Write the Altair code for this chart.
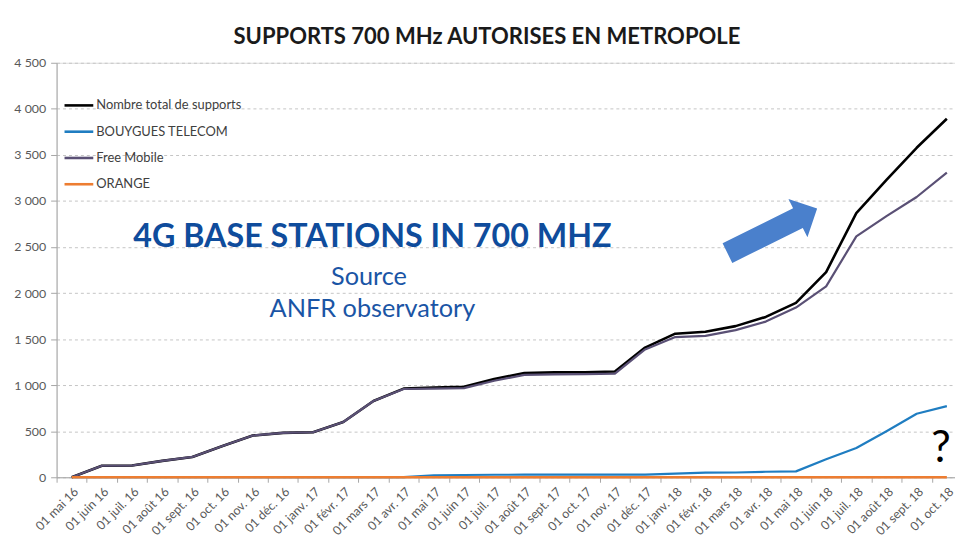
import altair as alt
import pandas as pd

months = ["01 mai 16", "01 juin 16", "01 juil. 16", "01 août 16", "01 sept. 16",
          "01 oct. 16", "01 nov. 16", "01 déc. 16", "01 janv. 17", "01 févr. 17",
          "01 mars 17", "01 avr. 17", "01 mai 17", "01 juin 17", "01 juil. 17",
          "01 août 17", "01 sept. 17", "01 oct. 17", "01 nov. 17", "01 déc. 17",
          "01 janv. 18", "01 févr. 18", "01 mars 18", "01 avr. 18", "01 mai 18",
          "01 juin 18", "01 juil. 18", "01 août 18", "01 sept. 18", "01 oct. 18"]

total = [0, 125, 128, 178, 221, 340, 453, 482, 489, 600,
         828, 962, 975, 982, 1068, 1132, 1139, 1140, 1148, 1408,
         1559, 1580, 1641, 1741, 1893, 2228, 2868, 3229, 3577, 3892]
bouygues = [0, 0, 0, 0, 0, 0, 0, 0, 0, 0,
            0, 2, 20, 25, 27, 28, 28, 28, 28, 28,
            40, 50, 52, 60, 64, 195, 318, 500, 690, 772]
free = [0, 125, 128, 178, 221, 340, 453, 482, 489, 600,
        828, 958, 962, 968, 1048, 1112, 1118, 1120, 1125, 1388,
        1522, 1535, 1597, 1690, 1842, 2072, 2615, 2835, 3043, 3308]
orange = [0, 0, 0, 0, 0, 0, 0, 0, 0, 0,
          0, 0, 0, 0, 0, 0, 0, 0, 0, 0,
          0, 0, 0, 0, 0, 0, 0, 0, 0, 0]

series_names = ["Nombre total de supports", "BOUYGUES TELECOM", "Free Mobile", "ORANGE"]
series_colors = ["#000000", "#1F7DC1", "#5A5075", "#ED7D31"]
series_widths = [2.6, 2.2, 2.2, 2.4]
y_ticks = [0, 500, 1000, 1500, 2000, 2500, 3000, 3500, 4000, 4500]

title_text = "SUPPORTS 700 MHz AUTORISES EN METROPOLE"
note_main = "4G BASE STATIONS IN 700 MHZ"
note_src1 = "Source"
note_src2 = "ANFR observatory"
note_q = "?"

FONT = "Lato"

rows = []
for name, vals in zip(series_names, [total, bouygues, free, orange]):
    for m, v in zip(months, vals):
        rows.append({"month": m, "series": name, "value": v})
df = pd.DataFrame(rows)

color_scale = alt.Scale(domain=series_names, range=series_colors)

x_enc = alt.X(
    "month:N", sort=months, title=None, bandPosition=0.5,
    scale=alt.Scale(type="band", range=[0, 913], paddingInner=0, paddingOuter=0),
    axis=alt.Axis(labelAngle=-45, tickBand="extent", tickSize=5, tickColor="#A6A6A6",
                  domainColor="#A6A6A6", labelColor="#595959", labelFontSize=12.5,
                  labelFont=FONT, labelPadding=3, grid=False, labelOverlap=False),
)
y_enc = alt.Y(
    "value:Q", title=None,
    scale=alt.Scale(domain=[0, 4500], nice=False, zero=True),
    axis=alt.Axis(values=y_ticks, labelExpr="replace(format(datum.value, ','), ',', ' ')",
                  grid=True, gridDash=[3, 3], gridColor="#C4C4C4", gridWidth=1,
                  domainColor="#A6A6A6", tickColor="#A6A6A6", tickSize=6,
                  labelColor="#595959", labelFontSize=12.5, labelFont=FONT, labelPadding=5),
)

layers = []
for name, w in zip(series_names, series_widths):
    layers.append(
        alt.Chart(df).transform_filter(alt.datum.series == name)
        .mark_line(strokeWidth=w, strokeJoin="round")
        .encode(x=x_enc, y=y_enc,
                color=alt.Color("series:N", scale=color_scale, legend=None))
    )

# manual legend (inside plot, top-left)
for k, name in enumerate(series_names):
    yk = 43 + 26.5 * k
    ldf = pd.DataFrame({"series": [name]})
    layers.append(
        alt.Chart(ldf).mark_rule(strokeWidth=2.6)
        .encode(x=alt.value(8), x2=alt.value(37), y=alt.value(yk),
                color=alt.Color("series:N", scale=color_scale, legend=None))
    )
    layers.append(
        alt.Chart(ldf).mark_text(align="left", baseline="middle", font=FONT,
                                 fontSize=13, color="#404040")
        .encode(x=alt.value(40), y=alt.value(yk), text="series:N")
    )

def note(txt, x, y, size, color, weight="normal"):
    return (alt.Chart(pd.DataFrame({"t": [txt]}))
            .mark_text(align="center", baseline="alphabetic", font=FONT,
                       fontSize=size, fontWeight=weight, color=color)
            .encode(x=alt.value(x), y=alt.value(y), text="t:N"))

layers.append(note(title_text, 434, -19, 22.2, "#1A1A1A", "bold"))
layers.append(note(note_main, 318.5, 186, 32.5, "#0F4C9C", "bold"))
layers.append(note(note_src1, 315, 224, 25.5, "#1A55A5"))
layers.append(note(note_src2, 318.5, 256, 25.5, "#1A55A5"))
layers.append(note(note_q, 892, 403, 44, "#000000"))

arrow_path = ("M -1 -0.218 L 0.572 -0.218 L 0.572 -0.426 L 1 0 "
              "L 0.572 0.426 L 0.572 0.218 L -1 0.218 Z")
layers.append(
    alt.Chart(pd.DataFrame({"a": [1]}))
    .mark_point(shape=arrow_path, size=10201, angle=333.6, filled=True,
                color="#4A80CC", opacity=1, strokeWidth=0)
    .encode(x=alt.value(721.75), y=alt.value(169.5))
)

chart = alt.layer(*layers).properties(
    width=906, height=418,
    autosize=alt.AutoSizeParams(type="none"),
    padding={"left": 49, "top": 53, "right": 0, "bottom": 58},
).configure_view(stroke=None).configure(font=FONT)

chart.save("out.html", embed_options={"renderer": "svg", "actions": False})
